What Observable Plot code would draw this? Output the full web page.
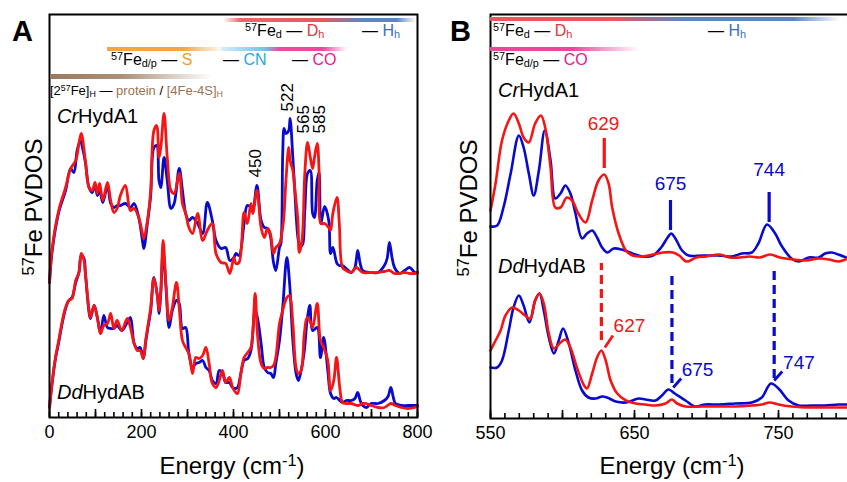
<!DOCTYPE html>
<html><head><meta charset="utf-8">
<script src="https://cdn.jsdelivr.net/npm/d3@7"></script>
<script src="https://cdn.jsdelivr.net/npm/@observablehq/plot@0.6"></script>
<style>
html,body{margin:0;padding:0;background:#fff;}
#root{position:relative;width:847px;height:482px;overflow:hidden;font-family:"Liberation Sans",Arial,Helvetica,sans-serif;color:#000;}
#root svg{position:absolute;top:0;}
.abs{position:absolute;white-space:nowrap;line-height:1;}
.bar{position:absolute;}
.abs sup{font-size:0.68em;vertical-align:0.48em;line-height:0;}
.abs sub{font-size:0.68em;vertical-align:-0.22em;line-height:0;}
</style></head><body><div id="root"></div>
<script>
// ---------- Panel A data: energy (cm^-1), PVDOS (arb. units above each trace baseline) ----------
const crA_blue = [[0,-10],[6,22],[20,60],[35,82],[46,104],[53,100],[60,122],[67,132],[72,124],[78,110],[86,85],[93,80],[99,88],[104,77],[109,82],[116,70],[126,87],[133,69],[140,65],[147,67],[154,67],[165,69],[176,65],[184,69],[194,55],[202,32],[205,24],[213,50],[220,77],[227,125],[233,127],[238,92],[242,85],[249,115],[256,92],[264,64],[271,69],[282,104],[289,82],[296,59],[303,52],[311,55],[322,49],[333,39],[343,70],[354,52],[362,32],[373,24],[383,25],[392,12],[401,15],[405,19],[412,17],[423,49],[430,67],[438,65],[442,62],[451,87],[460,52],[467,45],[474,44],[480,37],[487,10],[492,2],[500,25],[503,29],[507,119],[510,144],[514,139],[520,142],[523,154],[529,115],[532,92],[540,35],[543,29],[549,27],[555,62],[561,99],[567,102],[572,59],[576,55],[582,92],[586,100],[590,49],[598,66],[607,52],[611,19],[616,25],[625,9],[630,7],[637,7],[645,4],[656,0],[664,5],[670,22],[675,10],[681,2],[699,0],[714,0],[728,7],[734,14],[739,30],[745,14],[750,5],[761,-1],[772,2],[783,5],[794,0],[800,0]];
const crA_red = [[0,-10],[6,25],[20,62],[35,85],[46,104],[57,112],[64,129],[69,139],[78,112],[86,85],[93,82],[99,90],[104,79],[109,89],[116,72],[126,90],[133,72],[140,60],[147,64],[154,77],[165,87],[176,62],[184,64],[194,55],[202,39],[205,34],[213,52],[220,82],[227,142],[233,147],[238,115],[242,125],[249,159],[256,115],[264,82],[271,79],[282,99],[289,69],[296,59],[303,45],[311,39],[322,59],[333,32],[343,42],[354,49],[362,19],[373,10],[383,9],[392,-1],[401,15],[405,9],[412,10],[423,60],[430,49],[438,69],[442,59],[451,82],[460,45],[467,35],[474,44],[480,39],[487,19],[492,25],[500,29],[507,45],[510,59],[514,92],[520,125],[523,112],[529,102],[532,89],[540,52],[543,20],[549,32],[555,99],[561,130],[567,115],[572,104],[576,115],[582,129],[586,102],[590,49],[598,49],[607,45],[611,42],[616,59],[625,75],[630,49],[637,5],[645,2],[656,0],[667,5],[681,0],[699,0],[714,0],[728,1],[739,2],[750,-1],[761,-1],[772,0],[783,-1],[794,-1],[800,0]];
const ddA_blue = [[0,-1],[6,24],[13,48],[20,64],[28,84],[35,98],[42,106],[49,109],[57,124],[64,134],[69,151],[75,148],[78,134],[86,94],[89,88],[97,101],[104,89],[111,73],[118,91],[126,79],[133,78],[140,78],[147,81],[157,76],[169,84],[176,89],[184,63],[191,58],[197,59],[204,48],[209,64],[213,76],[220,96],[227,129],[235,109],[238,93],[242,114],[247,156],[253,121],[260,79],[267,96],[276,106],[282,103],[289,78],[296,79],[303,53],[311,39],[318,43],[325,44],[333,46],[340,39],[347,36],[354,26],[362,23],[369,36],[376,34],[383,24],[391,24],[398,19],[405,18],[409,19],[416,33],[423,46],[431,48],[438,56],[447,96],[452,89],[460,63],[467,39],[474,34],[481,33],[487,29],[492,43],[500,66],[507,99],[516,149],[522,123],[529,66],[536,33],[541,26],[547,36],[554,56],[560,86],[566,101],[572,76],[582,79],[589,49],[596,69],[605,36],[611,13],[618,8],[624,9],[631,6],[637,4],[645,6],[656,6],[664,8],[670,14],[676,5],[681,1],[689,-1],[699,3],[714,3],[728,6],[736,10],[742,19],[748,8],[752,3],[765,1],[779,1],[794,1],[800,1]];
const ddA_red = [[0,-1],[6,26],[13,49],[20,66],[28,86],[35,99],[42,106],[49,108],[57,126],[64,134],[69,153],[75,146],[78,133],[86,96],[89,89],[97,101],[104,89],[111,73],[118,81],[126,83],[133,93],[140,78],[147,86],[157,76],[169,88],[176,79],[184,63],[191,56],[197,56],[204,48],[209,66],[213,78],[220,99],[227,128],[235,109],[238,96],[242,116],[247,166],[253,123],[260,86],[267,99],[276,124],[282,99],[289,66],[296,59],[303,53],[311,33],[318,49],[325,48],[333,51],[340,59],[347,43],[354,23],[362,19],[369,26],[376,36],[383,24],[391,29],[398,19],[405,14],[409,13],[416,33],[423,49],[431,54],[438,59],[447,113],[452,73],[460,43],[467,38],[474,39],[481,39],[487,41],[492,49],[500,83],[507,96],[516,109],[522,111],[529,83],[536,39],[541,33],[547,36],[554,73],[560,89],[566,86],[572,79],[582,103],[589,66],[596,59],[605,46],[611,16],[618,26],[624,49],[631,19],[637,4],[645,3],[656,3],[670,1],[681,3],[689,3],[699,1],[714,-1],[728,-1],[742,3],[752,1],[765,-1],[779,-2],[794,-1],[800,0]];

// ---------- Panel B data ----------
const crB_red = [[550,47],[553.5,74],[558,117],[562.7,137],[566,144],[569.7,134],[573,120],[576.6,115],[581,134],[585,142],[588,130],[591.7,90],[595,50],[598.6,50],[603,60],[606.7,57],[611,44],[616,35],[620.6,57],[625,77],[629,83],[632,74],[634.5,50],[639,24],[644,7],[648.6,2],[655.5,1],[662.8,3],[669.7,5],[676.6,5],[681,2],[686,-4],[693,0],[700,1],[709,3],[716,0],[723,0],[730,1],[737,0],[744,3],[751,0],[760,-2],[769,-3],[778,-1],[785,-2],[792,-4],[798,-1]];
const crB_blue = [[550,31],[554.6,32],[559,50],[564,84],[569.7,122],[573,110],[576.6,84],[580,62],[583.6,87],[587.7,127],[591.7,97],[595,59],[598.6,64],[602,72],[605.5,64],[609,44],[613.6,19],[617,24],[620.6,27],[624,20],[627.5,10],[631,5],[635.6,9],[641,8],[648.6,4],[655.5,1],[662.8,2],[668.5,10],[673,20],[675.5,24],[678.4,19],[683,7],[687.6,2],[697,2],[708,2],[717.6,1],[724.5,4],[731.5,5],[736,14],[742,33],[747.7,24],[752,12],[759,-1],[764,-4],[771,0],[778,0],[782.4,4],[787,5],[791.6,3],[797,0]];
const ddB_red = [[550,56],[553.5,66],[557,76],[560.4,91],[565,99],[569.7,96],[574,91],[577.7,88],[581,106],[584,113],[587,103],[590.5,73],[594,58],[598.6,64],[602,67],[605.5,59],[610,39],[615,21],[617,18],[620.6,33],[624,49],[627,56],[630,46],[633.4,26],[638,13],[644,6],[651,3],[657.6,2],[664.6,1],[671.5,3],[676,7],[679.6,3],[685.4,0],[697,0],[708.4,0],[720,0],[731.5,1],[738.4,2],[744,4],[750,2],[759,0],[768.5,-1],[778,-1],[787,-1],[797.5,-1]];
const ddB_blue = [[550,39],[554.6,39],[558,46],[562.7,76],[566,99],[569.7,111],[573,101],[577,84],[581,106],[584,113],[587,96],[590.5,69],[594,53],[597.4,66],[600.4,78],[604.4,63],[609,36],[613.6,16],[618,9],[623,8],[627.5,10],[631,9],[637,5],[644,4],[653,8],[657.6,7],[664.6,6],[669,11],[673.6,17],[678,13],[685.4,6],[692.3,0],[699,2],[708.4,2],[720,3],[731.5,4],[738.4,9],[744.7,23],[750,18],[757,6],[764,1],[773,1],[782,1],[791.5,2],[797.5,2]];

// trace offsets (stacking) in the same arbitrary units
const offsetA = {cr: 145, dd: 11};
const offsetB = {cr: 161, dd: 12};

// axis ticks
const tickLabelsA = [0, 200, 400, 600, 800];
const majorTicksA = [0, 100, 200, 300, 400, 500, 600, 700, 800];
const minorTicksA = d3.range(0, 801, 20);
const tickLabelsB = [550, 650, 750];
const majorTicksB = [550, 600, 650, 700, 750, 800];
const minorTicksB = d3.range(550, 801, 10);

// annotations
const peakLabelsA = [{e: 448, y: 240, t: "450"}, {e: 517, y: 306, t: "522"}, {e: 553, y: 284, t: "565"}, {e: 587, y: 284, t: "585"}];
const solidRed = [{e: 629, y1: 250, y2: 280}];
const solidBlue = [{e: 675, y1: 188, y2: 218}, {e: 743.5, y1: 196, y2: 226}];
const labelsUpRed = [{e: 628.5, y: 295, t: "629"}];
const labelsUpBlue = [{e: 675, y: 235, t: "675"}, {e: 743.5, y: 249, t: "744"}];
const dashedRed = [{e: 627, y1: 78, y2: 155}];
const dashedBlue = [{e: 676, y1: 35, y2: 143}, {e: 747, y1: 40, y2: 148}];
const leadRed = [{x1: 629.4, y1: 71, x2: 635, y2: 83}];
const leadBlue = [{x1: 676.9, y1: 31, x2: 682.4, y2: 40}, {x1: 747, y1: 38, x2: 752.6, y2: 47}];
const labelsLowRed = [{e: 635.5, y: 93, t: "627"}];
const labelsLowBlue = [{e: 682.8, y: 49, t: "675"}, {e: 753.2, y: 56, t: "747"}];

const BLUE = "#0a0acc", RED = "#f51515";
const FONT = "'Liberation Sans', Arial, Helvetica, sans-serif";
const rows = (pairs, off) => pairs.map(([e, v]) => ({e, y: v + off}));
// inward tick marks: full-height ticks inset from the top so only a short stub above the axis remains
const tickMarks = (values, frameH, len) => Plot.tickX(values, {x: d => d, insetTop: frameH - len, stroke: "#000", strokeWidth: 1.6});

const plotA = Plot.plot({
  width: 440, height: 482,
  marginLeft: 49, marginRight: 23, marginTop: 14, marginBottom: 65,
  x: {domain: [0, 800]},
  y: {domain: [0, 403], axis: null},
  style: {background: "transparent", fontFamily: FONT, fontSize: "18px", color: "black", overflow: "visible"},
  marks: [
    Plot.line(rows(crA_blue, offsetA.cr), {x: "e", y: "y", stroke: BLUE, strokeWidth: 2.8, curve: "catmull-rom"}),
    Plot.line(rows(crA_red, offsetA.cr), {x: "e", y: "y", stroke: RED, strokeWidth: 2.8, curve: "catmull-rom"}),
    Plot.line(rows(ddA_blue, offsetA.dd), {x: "e", y: "y", stroke: BLUE, strokeWidth: 2.8, curve: "catmull-rom"}),
    Plot.line(rows(ddA_red, offsetA.dd), {x: "e", y: "y", stroke: RED, strokeWidth: 2.8, curve: "catmull-rom"}),
    tickMarks(minorTicksA, 403, 5),
    tickMarks(majorTicksA, 403, 8),
    Plot.axisX({ticks: tickLabelsA, tickSize: 0, tickPadding: 8, fontSize: 18, label: null}),
    Plot.frame({stroke: "black", strokeWidth: 2}),
    Plot.text(peakLabelsA, {x: "e", y: "y", text: "t", rotate: -90, textAnchor: "start", lineAnchor: "middle", fontSize: 17, fill: "black"})
  ]
});

const plotB = Plot.plot({
  width: 410, height: 482,
  marginLeft: 50, marginRight: 0, marginTop: 14, marginBottom: 64,
  x: {domain: [550, 800]},
  y: {domain: [0, 404], axis: null},
  style: {background: "transparent", fontFamily: FONT, fontSize: "18px", color: "black", overflow: "visible"},
  marks: [
    Plot.line(rows(crB_blue, offsetB.cr), {x: "e", y: "y", stroke: BLUE, strokeWidth: 2.6, curve: "catmull-rom"}),
    Plot.line(rows(crB_red, offsetB.cr), {x: "e", y: "y", stroke: RED, strokeWidth: 2.6, curve: "catmull-rom"}),
    Plot.line(rows(ddB_blue, offsetB.dd), {x: "e", y: "y", stroke: BLUE, strokeWidth: 2.6, curve: "catmull-rom"}),
    Plot.line(rows(ddB_red, offsetB.dd), {x: "e", y: "y", stroke: RED, strokeWidth: 2.6, curve: "catmull-rom"}),
    Plot.ruleX(solidRed, {x: "e", y1: "y1", y2: "y2", stroke: RED, strokeWidth: 3.2}),
    Plot.ruleX(solidBlue, {x: "e", y1: "y1", y2: "y2", stroke: BLUE, strokeWidth: 3.2}),
    Plot.ruleX(dashedRed, {x: "e", y1: "y1", y2: "y2", stroke: RED, strokeWidth: 3.2, strokeDasharray: "9,5"}),
    Plot.ruleX(dashedBlue, {x: "e", y1: "y1", y2: "y2", stroke: BLUE, strokeWidth: 3.2, strokeDasharray: "9,5"}),
    Plot.link(leadRed, {x1: "x1", y1: "y1", x2: "x2", y2: "y2", stroke: RED, strokeWidth: 2.8}),
    Plot.link(leadBlue, {x1: "x1", y1: "y1", x2: "x2", y2: "y2", stroke: BLUE, strokeWidth: 2.8}),
    Plot.text(labelsUpRed, {x: "e", y: "y", text: "t", fill: RED, fontSize: 19, textAnchor: "middle", lineAnchor: "middle"}),
    Plot.text(labelsUpBlue, {x: "e", y: "y", text: "t", fill: BLUE, fontSize: 19, textAnchor: "middle", lineAnchor: "middle"}),
    Plot.text(labelsLowRed, {x: "e", y: "y", text: "t", fill: RED, fontSize: 19, textAnchor: "start", lineAnchor: "middle"}),
    Plot.text(labelsLowBlue, {x: "e", y: "y", text: "t", fill: BLUE, fontSize: 19, textAnchor: "start", lineAnchor: "middle"}),
    tickMarks(minorTicksB, 404, 5),
    tickMarks(majorTicksB, 404, 8),
    Plot.axisX({ticks: tickLabelsB, tickSize: 0, tickPadding: 8, fontSize: 18, label: null}),
    Plot.frame({stroke: "black", strokeWidth: 2})
  ]
});

const root = document.getElementById("root");
plotA.style.left = "0px";
plotB.style.left = "440px";
root.appendChild(plotA);
root.appendChild(plotB);

// ---------- HTML overlays: legends, titles, panel letters ----------
function addText(html, left, baseline, size, extra = "") {
  const d = document.createElement("div");
  d.className = "abs";
  d.style.left = left + "px";
  d.style.top = (baseline - 0.8465 * size) + "px";
  d.style.fontSize = size + "px";
  d.style.cssText += extra;
  d.innerHTML = html;
  root.appendChild(d);
  return d;
}
function addBar(left, top, width, height, gradient) {
  const d = document.createElement("div");
  d.className = "bar";
  Object.assign(d.style, {left: left + "px", top: top + "px", width: width + "px", height: height + "px", background: gradient});
  root.appendChild(d);
}
const C_D = "#e8323a", C_H = "#3c6fbd", C_S = "#f39a2c", C_CN = "#27a8e0", C_CO = "#e5198b", C_BR = "#9c7350";

// panel letters
addText("A", 12, 42, 29, "font-weight:bold;");
addText("B", 450, 42, 29, "font-weight:bold;");

// Panel A legend bars
addBar(223, 18, 193, 3.5, "linear-gradient(to right, rgba(232,87,92,0) 0%, rgba(232,87,92,0.9) 9%, #e8575c 52%, #5a86c6 72%, #5a86c6 90%, rgba(90,134,198,0) 100%)");
addBar(107, 47, 240, 4, "linear-gradient(to right, #f3a548 0%, #f3a548 32%, rgba(243,165,72,0.1) 47%, rgba(108,195,234,0.3) 48%, #6cc3ea 66%, #e84a9c 72%, #e84a9c 90%, rgba(232,74,156,0) 100%)");
addBar(50, 74, 162, 5, "linear-gradient(to right, #9a7a5e 0%, #ad9078 45%, rgba(173,144,120,0) 100%)");
// Panel A legend texts
addText(`<sup>57</sup>Fe<sub>d</sub> — <span style="color:${C_D}">D<sub>h</sub></span>`, 245, 37, 16);
addText(`— <span style="color:${C_H}">H<sub>h</sub></span>`, 362, 37, 16);
addText(`<sup>57</sup>Fe<sub>d/p</sub> — <span style="color:${C_S}">S</span>`, 111, 66, 16);
addText(`— <span style="color:${C_CN}">CN</span>`, 223, 66, 16);
addText(`— <span style="color:${C_CO}">CO</span>`, 292, 66, 16);
addText(`[2<sup>57</sup>Fe]<sub>H</sub> — <span style="color:${C_BR}">protein</span> / <span style="color:${C_BR}">[4Fe-4S]<sub>H</sub></span>`, 50, 95, 13);

// Panel B legend bars
addBar(490, 17, 357, 3.5, "linear-gradient(to right, #e8575c 0%, #e8575c 35%, #5a86c6 54%, #5a86c6 85%, rgba(90,134,198,0) 98%)");
addBar(490, 47, 150, 4, "linear-gradient(to right, #e8489a 0%, #e8489a 55%, rgba(232,72,154,0) 100%)");
addText(`<sup>57</sup>Fe<sub>d</sub> — <span style="color:${C_D}">D<sub>h</sub></span>`, 493, 37, 16);
addText(`— <span style="color:${C_H}">H<sub>h</sub></span>`, 708, 37, 16);
addText(`<sup>57</sup>Fe<sub>d/p</sub> — <span style="color:${C_CO}">CO</span>`, 493, 66, 16);

// sample labels
addText(`<i>Cr</i>HydA1`, 57, 123, 20);
addText(`<i>Dd</i>HydAB`, 57, 399, 20);
addText(`<i>Cr</i>HydA1`, 498, 97, 20);
addText(`<i>Dd</i>HydAB`, 498, 273, 20);

// axis titles
function addCentered(html, cx, baseline, size) {
  const d = addText(html, cx, baseline, size);
  d.style.transform = "translateX(-50%)";
}
addCentered(`Energy (cm<sup>-1</sup>)`, 232, 474, 24);
addCentered(`Energy (cm<sup>-1</sup>)`, 672, 474, 24);
function addRotated(html, cx, cy, size) {
  const d = document.createElement("div");
  d.className = "abs";
  Object.assign(d.style, {left: cx + "px", top: cy + "px", fontSize: size + "px", transform: "translate(-50%,-50%) rotate(-90deg)"});
  d.innerHTML = html;
  root.appendChild(d);
}
addRotated(`<sup>57</sup>Fe PVDOS`, 34, 207, 24);
addRotated(`<sup>57</sup>Fe PVDOS`, 469, 208, 24);
</script></body></html>
